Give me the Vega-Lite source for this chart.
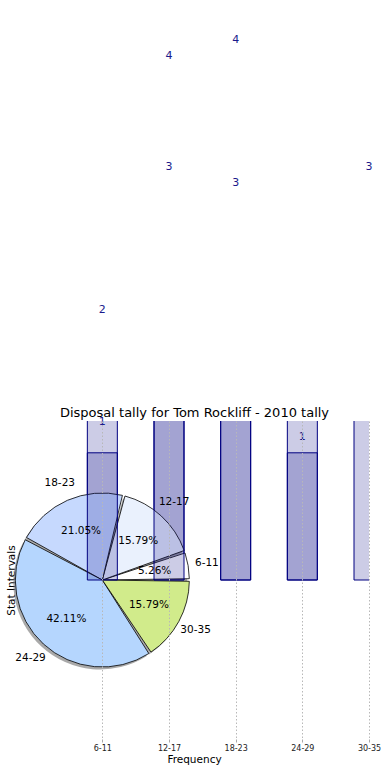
{
  "$schema": "https://vega.github.io/schema/vega-lite/v6.json",
  "autosize": {"type": "none"},
  "padding": {"top": 421, "left": 19, "right": 21, "bottom": 41},
  "width": 350,
  "height": 318,
  "background": "white",
  "config": {"font": "DejaVu Sans", "view": {"stroke": null}},
  "data": {"values": [
    {"interval": "6-11", "order": 1, "tally": 1, "share": "5.26%", "other": 2},
    {"interval": "12-17", "order": 2, "tally": 3, "share": "15.79%", "other": 4},
    {"interval": "18-23", "order": 3, "tally": 4, "share": "21.05%", "other": 3},
    {"interval": "24-29", "order": 4, "tally": 8, "share": "42.11%", "other": 1},
    {"interval": "30-35", "order": 5, "tally": 3, "share": "15.79%", "other": null}
  ]},
  "resolve": {"axis": {"x": "independent", "y": "independent"}},
  "layer": [
    {
      "mark": {"type": "bar", "width": 30, "clip": true, "fill": "#000080", "fillOpacity": 0.2, "stroke": "#000080", "strokeWidth": 1},
      "encoding": {
        "x": {"field": "interval", "type": "ordinal",
          "scale": {"type": "point", "domain": ["6-11", "12-17", "18-23", "24-29", "30-35"], "padding": 0.625, "align": 1},
          "axis": {"orient": "bottom", "title": "Frequency", "titleFontSize": 10.5, "titleFontWeight": "normal", "titleColor": "#000000", "titlePadding": 2,
            "labelFontSize": 8, "labelColor": "#222222", "labelAngle": 0, "labelPadding": 2, "domain": false,
            "ticks": true, "tickColor": "#aaaaaa", "tickSize": 3, "grid": true, "gridColor": "#b8b8b8", "gridDash": [1.5, 2], "gridWidth": 1, "zindex": 1}},
        "y": {"field": "other", "type": "quantitative",
          "scale": {"domain": [-1.25, 1.25], "nice": false, "zero": false},
          "axis": {"orient": "left", "title": "Stat Intervals", "titleFontSize": 10.5, "titleFontWeight": "normal", "titleColor": "#000000", "titlePadding": 3,
            "labels": false, "ticks": false, "domain": false, "grid": false}}
      }
    },
    {
      "mark": {"type": "arc", "radius": 87, "padAngle": 0.03, "fill": "#707070", "fillOpacity": 0.6, "xOffset": -2, "yOffset": 2.5},
      "encoding": {
        "theta": {"field": "tally", "type": "quantitative", "stack": true, "scale": {"range": [1.5708, -4.7124]}},
        "order": {"field": "order"},
        "x": {"datum": "6-11", "type": "ordinal", "axis": null},
        "y": {"datum": 0, "type": "quantitative", "axis": null}
      }
    },
    {
      "mark": {"type": "arc", "radius": 87, "padAngle": 0.03, "stroke": "#000000", "strokeWidth": 0.8},
      "encoding": {
        "theta": {"field": "tally", "type": "quantitative", "stack": true},
        "order": {"field": "order"},
        "color": {"field": "interval", "type": "nominal", "legend": null,
          "scale": {"domain": ["6-11", "12-17", "18-23", "24-29", "30-35"], "range": ["#ffffff", "#eaf1fd", "#c6d9fe", "#b5d6fe", "#d1eb8b"]}},
        "x": {"datum": "6-11", "type": "ordinal", "axis": null},
        "y": {"datum": 0, "type": "quantitative", "axis": null}
      }
    },
    {
      "mark": {"type": "bar", "width": 30, "clip": true, "fill": "#000080", "fillOpacity": 0.2, "stroke": "#000080", "strokeWidth": 1},
      "encoding": {
        "x": {"field": "interval", "type": "ordinal",
          "axis": {"orient": "top", "title": "Disposal tally for Tom Rockliff - 2010 tally", "titleFontSize": 13, "titleFontWeight": "normal", "titleColor": "#000000", "titlePadding": 2,
            "labels": false, "ticks": false, "domain": false, "grid": false}},
        "y": {"field": "tally", "type": "quantitative", "axis": null}
      }
    },
    {
      "mark": {"type": "text", "radius": 53, "fontSize": 10.5, "color": "#000000"},
      "encoding": {
        "theta": {"field": "tally", "type": "quantitative", "stack": true},
        "order": {"field": "order"},
        "text": {"field": "share"},
        "x": {"datum": "6-11", "type": "ordinal", "axis": null},
        "y": {"datum": 0, "type": "quantitative", "axis": null}
      }
    },
    {
      "mark": {"type": "text", "radius": 106, "fontSize": 10.5, "color": "#000000"},
      "encoding": {
        "theta": {"field": "tally", "type": "quantitative", "stack": true},
        "order": {"field": "order"},
        "text": {"field": "interval"},
        "x": {"datum": "6-11", "type": "ordinal", "axis": null},
        "y": {"datum": 0, "type": "quantitative", "axis": null}
      }
    },
    {
      "mark": {"type": "text", "dy": -31, "baseline": "middle", "fontSize": 11, "color": "#1a1a8c"},
      "encoding": {
        "x": {"field": "interval", "type": "ordinal", "axis": null},
        "y": {"field": "tally", "type": "quantitative", "axis": null},
        "text": {"field": "tally"}
      }
    },
    {
      "mark": {"type": "text", "dy": -15.5, "baseline": "middle", "fontSize": 11, "color": "#1a1a8c"},
      "encoding": {
        "x": {"field": "interval", "type": "ordinal", "axis": null},
        "y": {"field": "other", "type": "quantitative", "axis": null},
        "text": {"field": "other"}
      }
    }
  ]
}
